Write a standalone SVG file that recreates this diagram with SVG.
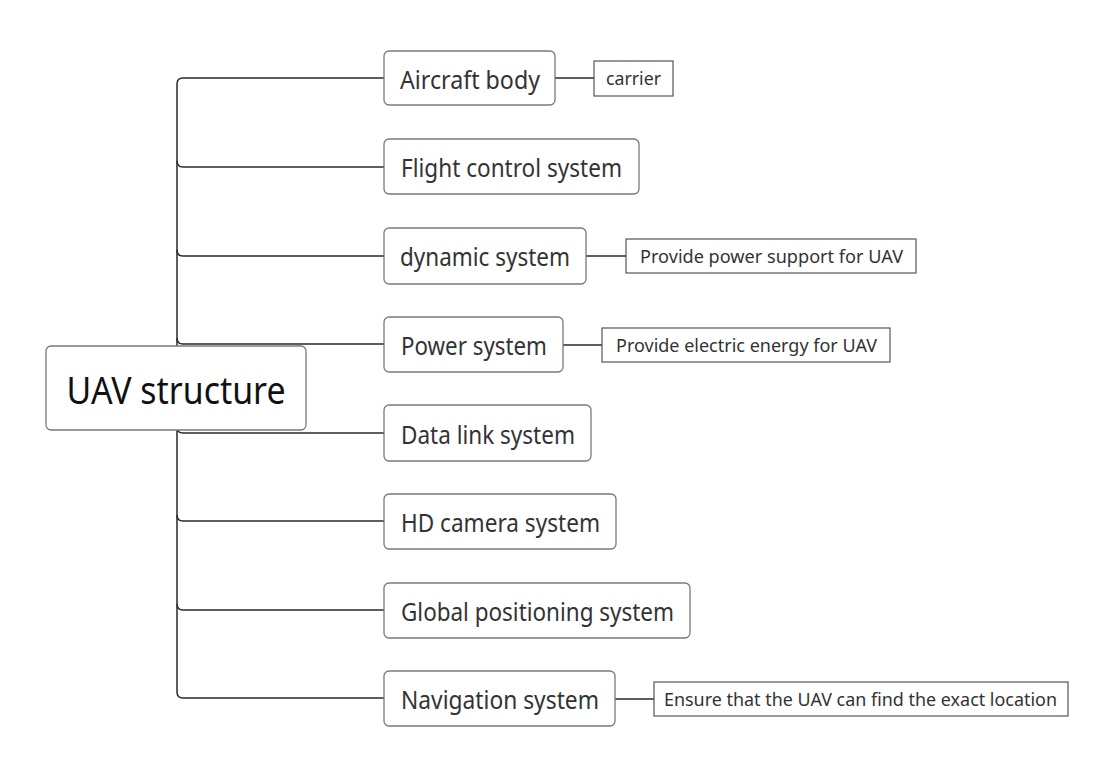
<svg xmlns="http://www.w3.org/2000/svg" width="1100" height="758" viewBox="0 0 1100 758">
<style>
.bg{fill:#fff}
.conn{fill:none;stroke:#2a2a2a;stroke-width:1.5}
.node rect{fill:#fff;stroke:#7a7a7a;stroke-width:1.3}
.sub rect{fill:#fff;stroke:#555;stroke-width:1.2}
text{font-family:"Noto Sans","Open Sans","Liberation Sans",sans-serif;fill:#333;text-anchor:middle}
.t{font-size:26px}
.s{font-size:18px}
.m{font-size:38px;fill:#111}
</style>
<rect class="bg" x="0" y="0" width="1100" height="758"/>
<g id="connectors" class="conn">
<path d="M384,78 H183 Q177,78 177,84 V692 Q177,698 183,698 H384"/>
<path d="M177,161 Q177,167 183,167 H384"/>
<path d="M177,250 Q177,256 183,256 H384"/>
<path d="M177,338 Q177,344 183,344 H384"/>
<path d="M177,427 Q177,433 183,433 H384"/>
<path d="M177,515 Q177,521 183,521 H384"/>
<path d="M177,604 Q177,610 183,610 H384"/>
<path d="M555,78 H594"/>
<path d="M586,256 H626"/>
<path d="M563,345 H602"/>
<path d="M615,699 H654"/>
</g>
<g id="root" class="node"><rect x="46" y="346" width="260" height="84" rx="5"/><text class="m" x="176" y="404" textLength="219" lengthAdjust="spacingAndGlyphs">UAV structure</text></g>
<g id="n1" class="node"><rect x="384" y="51" width="171" height="54" rx="5"/><text class="t" x="470" y="89" textLength="140" lengthAdjust="spacingAndGlyphs">Aircraft body</text></g>
<g id="n2" class="node"><rect x="384" y="139" width="255" height="55" rx="5"/><text class="t" x="511.5" y="177" textLength="221" lengthAdjust="spacingAndGlyphs">Flight control system</text></g>
<g id="n3" class="node"><rect x="384" y="228" width="202" height="56" rx="5"/><text class="t" x="485" y="266" textLength="170" lengthAdjust="spacingAndGlyphs">dynamic system</text></g>
<g id="n4" class="node"><rect x="384" y="317" width="179" height="55" rx="5"/><text class="t" x="474" y="355" textLength="146" lengthAdjust="spacingAndGlyphs">Power system</text></g>
<g id="n5" class="node"><rect x="384" y="405" width="207" height="56" rx="5"/><text class="t" x="488" y="444" textLength="174" lengthAdjust="spacingAndGlyphs">Data link system</text></g>
<g id="n6" class="node"><rect x="384" y="494" width="232" height="55" rx="5"/><text class="t" x="500.5" y="532" textLength="199" lengthAdjust="spacingAndGlyphs">HD camera system</text></g>
<g id="n7" class="node"><rect x="384" y="583" width="306" height="55" rx="5"/><text class="t" x="537.5" y="621" textLength="273" lengthAdjust="spacingAndGlyphs">Global positioning system</text></g>
<g id="n8" class="node"><rect x="384" y="671" width="231" height="55" rx="5"/><text class="t" x="500" y="709" textLength="198" lengthAdjust="spacingAndGlyphs">Navigation system</text></g>
<g id="s1" class="sub"><rect x="594" y="61" width="79" height="35"/><text class="s" x="633.5" y="85" textLength="55" lengthAdjust="spacingAndGlyphs">carrier</text></g>
<g id="s3" class="sub"><rect x="626" y="239" width="290" height="34"/><text class="s" x="771.5" y="263" textLength="263" lengthAdjust="spacingAndGlyphs">Provide power support for UAV</text></g>
<g id="s4" class="sub"><rect x="602" y="328" width="288" height="34"/><text class="s" x="746.5" y="352" textLength="261" lengthAdjust="spacingAndGlyphs">Provide electric energy for UAV</text></g>
<g id="s8" class="sub"><rect x="654" y="682" width="414" height="34"/><text class="s" x="860.5" y="706" textLength="393" lengthAdjust="spacingAndGlyphs">Ensure that the UAV can find the exact location</text></g>
</svg>
